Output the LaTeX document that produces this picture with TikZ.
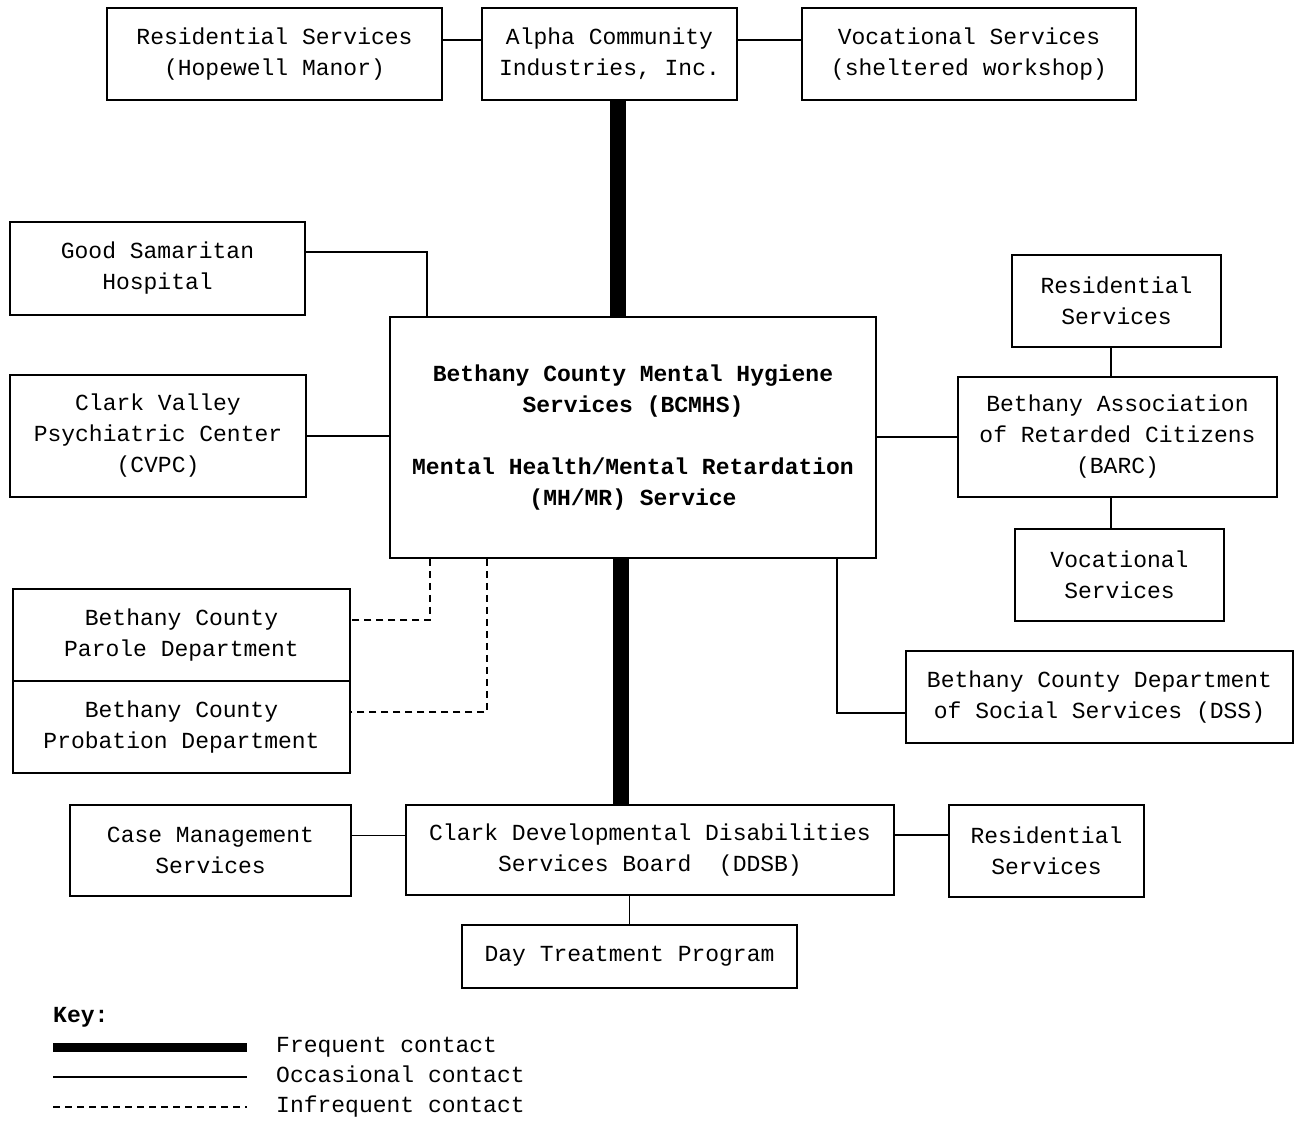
\documentclass[tikz,border=0pt]{standalone}
\usepackage{fontspec}
\setmonofont{Liberation Mono}
\usepackage{tikz}
\usetikzlibrary{positioning,calc}

\begin{document}
\begin{tikzpicture}[
    x=1pt, y=-1pt,
    font=\ttfamily\fontsize{23}{31}\selectfont,
    box/.style={draw=black, line width=1.7pt, align=center, inner sep=0pt},
    keytext/.style={anchor=west, inner sep=0pt, text height=15pt, text depth=5pt},
    occasional/.style={line width=1.7pt},
    frequent/.style={line width=16pt},
    infrequent/.style={line width=1.7pt, dash pattern=on 7pt off 5pt}
]
\useasboundingbox (0,0) rectangle (1294,1120);

% ---- top row ----
\node[box, minimum width=335pt, minimum height=92pt] (reshope) at (274.5,54) {Residential Services\\(Hopewell Manor)};
\node[box, minimum width=255pt, minimum height=92pt] (alpha)   at (609.5,54) {Alpha Community\\Industries, Inc.};
\node[box, minimum width=334pt, minimum height=92pt] (vocshel) at (969,54)   {Vocational Services\\(sheltered workshop)};

% ---- central service ----
\node[box, minimum width=486pt, minimum height=241pt, font=\ttfamily\bfseries\fontsize{23}{31}\selectfont] (cen) at (633,437.5)
  {Bethany County Mental Hygiene\\Services (BCMHS)\\[31pt]Mental Health/Mental Retardation\\(MH/MR) Service};

% ---- left column ----
\node[box, minimum width=295pt, minimum height=93pt]  (goodsam)   at (157.5,268.5) {Good Samaritan\\Hospital};
\node[box, minimum width=296pt, minimum height=122pt] (cvpc)      at (158,436)     {Clark Valley\\Psychiatric Center\\(CVPC)};
\node[box, minimum width=337pt, minimum height=92pt]  (parole)    at (181.5,635)   {Bethany County\\Parole Department};
\node[box, minimum width=337pt, minimum height=92pt]  (probation) at (181.5,727)   {Bethany County\\Probation Department};

% ---- right column ----
\node[box, minimum width=209pt, minimum height=92pt]  (barcres) at (1116.5,301) {Residential\\Services};
\node[box, minimum width=319pt, minimum height=120pt] (barc)    at (1117.5,437) {Bethany Association\\of Retarded Citizens\\(BARC)};
\node[box, minimum width=209pt, minimum height=92pt]  (barcvoc) at (1119.5,575) {Vocational\\Services};
\node[box, minimum width=387pt, minimum height=92pt]  (dss)     at (1099.5,697) {Bethany County Department\\of Social Services (DSS)};

% ---- bottom row ----
\node[box, minimum width=488pt, minimum height=90pt] (ddsb)     at (650,850)    {Clark Developmental Disabilities\\Services Board~~(DDSB)};
\node[box, minimum width=281pt, minimum height=91pt] (casemgmt) at (210.5,850.5) {Case Management\\Services};
\node[box, minimum width=195pt, minimum height=92pt] (resright) at (1046.5,851) {Residential\\Services};
\node[box, minimum width=335pt, minimum height=63pt] (daytreat) at (629.5,956.5) {Day Treatment Program};

% ---- frequent contact ----
\draw[frequent] ([xshift=8pt]alpha.south) -- ([xshift=8pt]alpha.south |- cen.north);
\draw[frequent] ([xshift=-29pt]ddsb.north) -- ([xshift=-29pt]ddsb.north |- cen.south);

% ---- occasional contact ----
\draw[occasional] ([yshift=14pt]reshope.east) -- ([yshift=14pt]reshope.east -| alpha.west);
\draw[occasional] ([yshift=14pt]alpha.east) -- ([yshift=14pt]alpha.east -| vocshel.west);
\draw[occasional] ([yshift=16.5pt]goodsam.east) -| ([xshift=38pt]cen.north west);
\draw[occasional] (cvpc.east) -- (cvpc.east -| cen.west);
\draw[occasional] (cen.east |- barc.west) -- (barc.west);
\draw[occasional] ([xshift=-5.5pt]barcres.south) -- ([xshift=-5.5pt]barcres.south |- barc.north);
\draw[occasional] ([xshift=-6.5pt]barc.south) -- ([xshift=-6.5pt]barc.south |- barcvoc.north);
\draw[occasional] ([xshift=-40pt]cen.south east) |- ([yshift=-16pt]dss.west);
\draw[occasional] ([yshift=15pt]casemgmt.east) -- ([yshift=15pt]casemgmt.east -| ddsb.west);
\draw[occasional] ([yshift=15pt]ddsb.east) -- ([yshift=15pt]ddsb.east -| resright.west);
\draw[occasional] (daytreat.north) -- (daytreat.north |- ddsb.south);

% ---- infrequent contact ----
\draw[infrequent] ([xshift=41pt]cen.south west) |- ([yshift=15pt]parole.east);
\draw[infrequent] ([xshift=98pt]cen.south west) |- ([yshift=15pt]probation.east);

% ---- key ----
\node[keytext, font=\ttfamily\bfseries\fontsize{23}{31}\selectfont] (key) at (53,1017) {Key:};
\coordinate (kfa) at (53,1047);  \coordinate (kfb) at (247,1047);
\coordinate (koa) at (53,1077);  \coordinate (kob) at (247,1077);
\coordinate (kia) at (53,1107);  \coordinate (kib) at (247,1107);
\draw[line width=9pt] (kfa) -- (kfb);
\draw[occasional] (koa) -- (kob);
\draw[infrequent] (kia) -- (kib);
\node[keytext] (kfreq) at (276,1047) {Frequent contact};
\node[keytext] (kocc)  at (276,1077) {Occasional contact};
\node[keytext] (kinf)  at (276,1107) {Infrequent contact};

\end{tikzpicture}
\end{document}
